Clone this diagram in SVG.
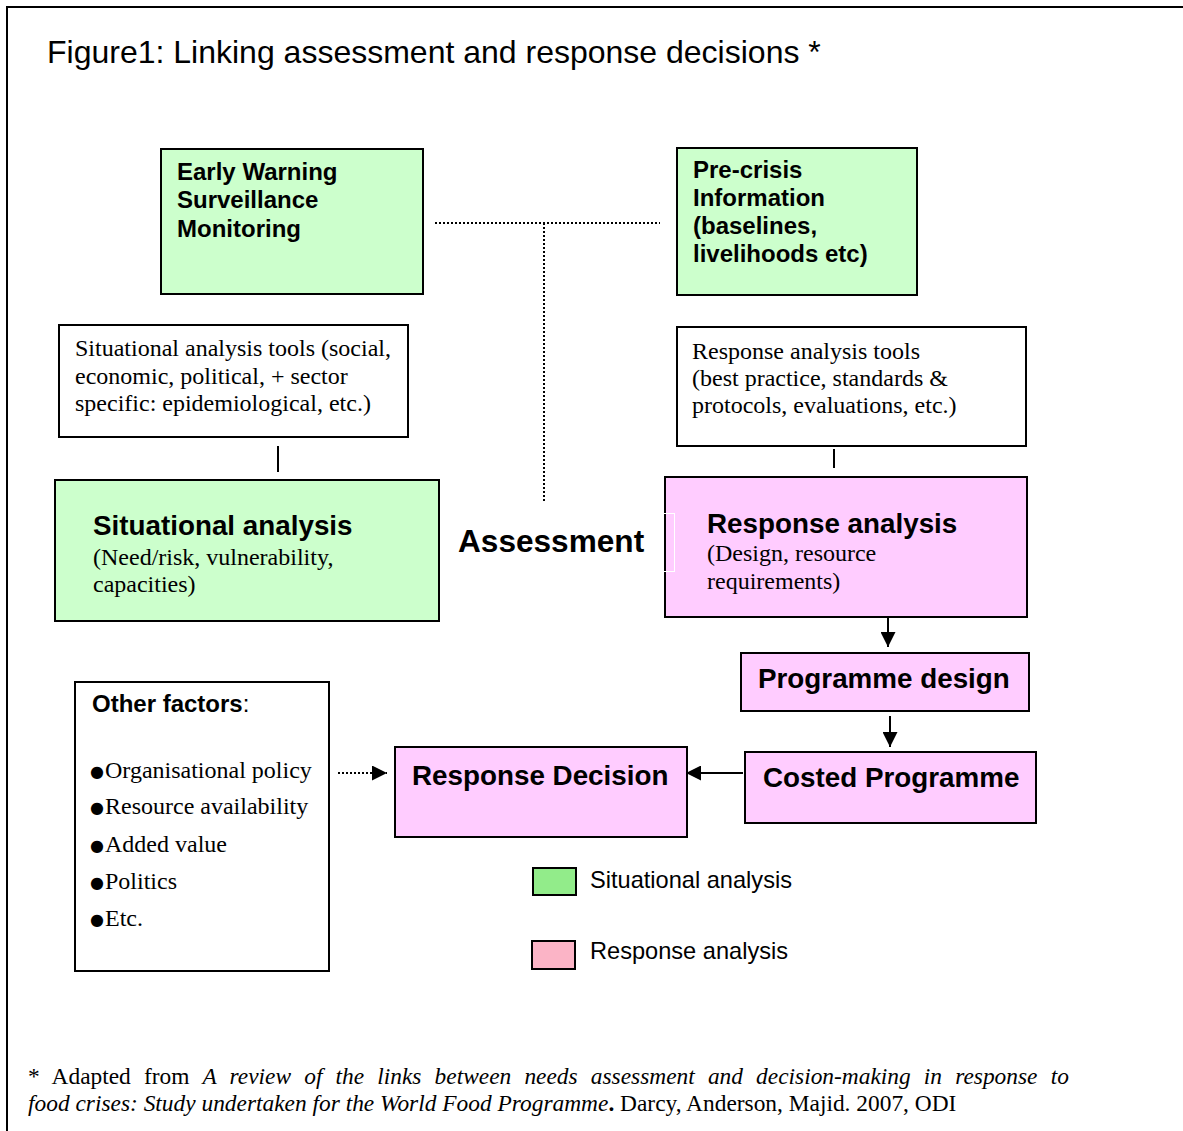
<svg xmlns="http://www.w3.org/2000/svg" width="1183" height="1131" viewBox="0 0 1183 1131">
  <style>
    .frame { fill: none; stroke: #000; stroke-width: 2; }
    .green { fill: #ccffcc; stroke: #000; stroke-width: 2; }
    .pink { fill: #ffccff; stroke: #000; stroke-width: 2; }
    .plain { fill: #fff; stroke: #000; stroke-width: 2; }
    .sans { font-family: "Liberation Sans", Arial, sans-serif; fill: #000; }
    .bold { font-family: "Liberation Sans", Arial, sans-serif; font-weight: bold; fill: #000; }
    .serif { font-family: "Liberation Serif", "Times New Roman", serif; fill: #000; font-size: 24px; }
    .note { font-family: "Liberation Serif", "Times New Roman", serif; fill: #000; font-size: 23.4px; }
    .label { font-size: 27.8px; }
    .bullet { font-family: "DejaVu Sans", sans-serif; font-size: 16px; }
    .dot { fill: none; stroke: #000; stroke-width: 2; stroke-dasharray: 2 2; }
    .solid { fill: none; stroke: #000; stroke-width: 2; }
  </style>
  <defs>
    <marker id="headL" viewBox="0 0 10 10" refX="10" refY="5" markerWidth="15" markerHeight="15" orient="auto" markerUnits="userSpaceOnUse">
      <path d="M0,0 L10,5 L0,10 Z" fill="#000"/>
    </marker>
  </defs>

  <rect width="1183" height="1131" fill="#fff"/>
  <path class="frame" d="M7,1131 V7 H1183"/>

  <text id="title" class="sans" x="47" y="63" font-size="32">Figure1: Linking assessment and response decisions *</text>

  <!-- connectors -->
  <g id="connectors">
    <path class="dot" d="M435,223 H660"/>
    <path class="dot" d="M544,223 V501"/>
    <path class="solid" d="M278,446 V472"/>
    <path class="solid" d="M834,449 V468"/>
    <path class="solid" d="M888,617 V647" marker-end="url(#headL)"/>
    <path class="solid" d="M890,716 V747" marker-end="url(#headL)"/>
    <path class="solid" d="M743,773 H686" marker-end="url(#headL)"/>
    <path class="dot" d="M338,773 H387" marker-end="url(#headL)"/>
  </g>

  <g id="early-warning">
    <rect class="green" x="161" y="149" width="262" height="145"/>
    <text class="bold" font-size="24" x="177" y="180">Early Warning</text>
    <text class="bold" font-size="24" x="177" y="208">Surveillance</text>
    <text class="bold" font-size="24" x="177" y="237">Monitoring</text>
  </g>

  <g id="pre-crisis">
    <rect class="green" x="677" y="148" width="240" height="147"/>
    <text class="bold" font-size="24" x="693" y="178">Pre-crisis</text>
    <text class="bold" font-size="24" x="693" y="206">Information</text>
    <text class="bold" font-size="24" x="693" y="234">(baselines,</text>
    <text class="bold" font-size="24" x="693" y="262">livelihoods etc)</text>
  </g>

  <g id="situational-tools">
    <rect class="plain" x="59" y="325" width="349" height="112"/>
    <text class="serif" x="75" y="356">Situational analysis tools (social,</text>
    <text class="serif" x="75" y="384">economic, political, + sector</text>
    <text class="serif" x="75" y="411">specific: epidemiological, etc.)</text>
  </g>

  <g id="response-tools">
    <rect class="plain" x="677" y="327" width="349" height="119"/>
    <text class="serif" x="692" y="359">Response analysis tools</text>
    <text class="serif" x="692" y="386">(best practice, standards &amp;</text>
    <text class="serif" x="692" y="413">protocols, evaluations, etc.)</text>
  </g>

  <g id="situational-analysis">
    <rect class="green" x="55" y="480" width="384" height="141"/>
    <text class="bold label" x="93" y="535">Situational analysis</text>
    <text class="serif" x="93" y="565">(Need/risk, vulnerability,</text>
    <text class="serif" x="93" y="592">capacities)</text>
  </g>

  <g id="assessment">
    <text class="bold" font-size="31.6" x="458" y="552">Assessment</text>
  </g>

  <g id="response-analysis">
    <rect class="pink" x="665" y="477" width="362" height="140"/>
    <rect x="663.5" y="513.5" width="11" height="58" fill="none" stroke="#fff" stroke-width="1"/>
    <text class="bold label" x="707" y="533">Response analysis</text>
    <text class="serif" x="707" y="561">(Design, resource</text>
    <text class="serif" x="707" y="589">requirements)</text>
  </g>

  <g id="programme-design">
    <rect class="pink" x="741" y="653" width="288" height="58"/>
    <text class="bold label" x="758" y="688">Programme design</text>
  </g>

  <g id="costed-programme">
    <rect class="pink" x="745" y="752" width="291" height="71"/>
    <text class="bold label" x="763" y="787">Costed Programme</text>
  </g>

  <g id="response-decision">
    <rect class="pink" x="395" y="747" width="292" height="90"/>
    <text class="bold label" x="412" y="785">Response Decision</text>
  </g>

  <g id="other-factors">
    <rect class="plain" x="75" y="682" width="254" height="289"/>
    <text class="bold" font-size="24" x="92" y="712">Other factors<tspan class="sans" font-weight="normal">:</tspan></text>
    <text class="serif" x="90" y="778"><tspan class="bullet" dy="-1">●</tspan><tspan x="105" dy="1">Organisational policy</tspan></text>
    <text class="serif" x="90" y="814"><tspan class="bullet" dy="-1">●</tspan><tspan x="105" dy="1">Resource availability</tspan></text>
    <text class="serif" x="90" y="852"><tspan class="bullet" dy="-1">●</tspan><tspan x="105" dy="1">Added value</tspan></text>
    <text class="serif" x="90" y="889"><tspan class="bullet" dy="-1">●</tspan><tspan x="105" dy="1">Politics</tspan></text>
    <text class="serif" x="90" y="926"><tspan class="bullet" dy="-1">●</tspan><tspan x="105" dy="1">Etc.</tspan></text>
  </g>

  <g id="legend">
    <rect x="533" y="868" width="43" height="27" fill="#92ec8a" stroke="#000" stroke-width="2"/>
    <text class="sans" font-size="23.6" x="590" y="888">Situational analysis</text>
    <rect x="532" y="941" width="43" height="28" fill="#fbb4c6" stroke="#000" stroke-width="2"/>
    <text class="sans" font-size="23.6" x="590" y="959">Response analysis</text>
  </g>

  <!-- source note; first line justified with extra word spacing -->
  <g id="footnote">
    <text class="note" x="28" y="1084" word-spacing="7.3">* Adapted from <tspan font-style="italic">A review of the links between needs assessment and decision-making in response to</tspan></text>
    <text class="note" x="28" y="1111"><tspan font-style="italic">food crises: Study undertaken for the World Food Programme</tspan><tspan font-weight="bold">.</tspan> Darcy, Anderson, Majid. 2007, ODI</text>
  </g>
</svg>
